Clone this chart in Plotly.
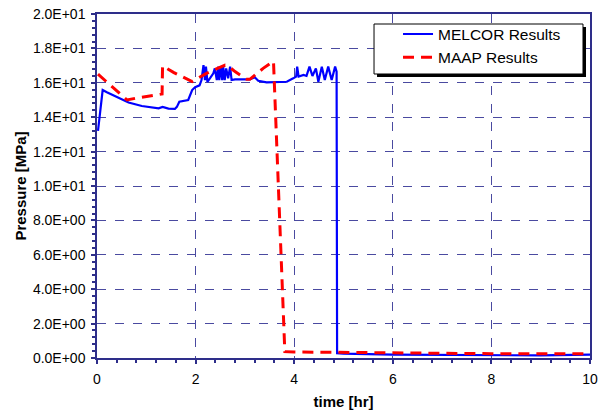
import plotly.graph_objects as go

# MELCOR results (time [hr], pressure [MPa])
melcor_t = [0.02, 0.115, 0.2, 0.44, 0.64, 0.91, 1.25, 1.33, 1.45, 1.58, 1.62, 1.67, 1.79, 1.85, 1.93, 1.99,
            2.08, 2.12, 2.16, 2.19, 2.21, 2.24, 2.29, 2.36, 2.39, 2.43, 2.46, 2.48, 2.51, 2.54, 2.56, 2.59,
            2.62, 2.66, 2.70, 2.73, 2.80, 2.90, 3.04, 3.10, 3.20, 3.27, 3.44, 3.64, 3.85, 3.98, 4.04,
            4.06, 4.09, 4.19, 4.25, 4.31, 4.37, 4.44, 4.49, 4.56, 4.62, 4.69, 4.76, 4.83, 4.86, 4.87,
            5.0, 6.0, 7.0, 8.0, 9.0, 10.0]
melcor_p = [13.2, 15.58, 15.45, 15.1, 14.85, 14.65, 14.52, 14.6, 14.5, 14.48, 14.6, 14.9, 14.95, 15.0, 15.58, 15.74,
            15.85, 16.16, 17.03, 16.16, 16.94, 16.06, 16.26, 16.55, 16.84, 16.16, 16.94, 16.16, 16.94, 16.16, 16.94, 16.16,
            16.84, 16.26, 16.94, 16.16, 16.2, 16.2, 16.16, 16.2, 16.32, 16.12, 16.03, 16.03, 16.06, 16.26,
            16.36, 16.94, 16.36, 16.46, 16.40, 16.94, 16.40, 16.84, 16.06, 16.94, 16.16, 16.94, 16.16, 16.94, 16.65, 0.28,
            0.25, 0.2, 0.17, 0.15, 0.15, 0.2]

# MAAP results
maap_t = [0.02, 0.61, 0.78, 1.32, 1.33, 1.56, 1.93, 2.22, 2.60, 2.65, 2.80, 3.04, 3.10, 3.37, 3.58, 3.81,
          4.0, 6.0, 8.0, 10.0]
maap_p = [16.5, 15.0, 15.1, 15.35, 16.98, 16.59, 16.07, 16.55, 17.03, 17.0, 16.65, 16.2, 16.2, 16.84, 17.25, 0.37,
          0.35, 0.3, 0.25, 0.25]

y_tickvals = [0, 2, 4, 6, 8, 10, 12, 14, 16, 18, 20]
y_ticktext = ["0.0E+00", "2.0E+00", "4.0E+00", "6.0E+00", "8.0E+00", "1.0E+01",
              "1.2E+01", "1.4E+01", "1.6E+01", "1.8E+01", "2.0E+01"]
x_tickvals = [0, 2, 4, 6, 8, 10]

NAVY = "#2e2e8a"
GRID = "#4a4aa0"
FONT = "Arial, Liberation Sans, sans-serif"

fig = go.Figure()
fig.add_trace(go.Scatter(x=melcor_t, y=melcor_p, mode="lines", name="MELCOR Results",
                         line=dict(color="#0000ff", width=2.2)))
fig.add_trace(go.Scatter(x=maap_t, y=maap_p, mode="lines", name="MAAP Results",
                         line=dict(color="#ff0000", width=3, dash="11px,7px")))

# legend box with shadow
fig.add_shape(type="rect", xref="paper", yref="paper", x0=0.568, x1=0.9919, y0=0.8169, y1=0.9622,
              fillcolor="black", line=dict(width=0), layer="above")
fig.add_shape(type="rect", xref="paper", yref="paper", x0=0.5619, x1=0.9858, y0=0.8256, y1=0.9709,
              fillcolor="white", line=dict(color="black", width=1), layer="above")

fig.update_layout(
    width=603, height=410,
    margin=dict(l=97, r=13, t=14, b=52, autoexpand=False),
    paper_bgcolor="white", plot_bgcolor="white",
    font=dict(family=FONT, color="black", size=14),
    showlegend=True,
    legend=dict(x=0.6106, y=0.99, xanchor="left", yanchor="top",
                bgcolor="rgba(0,0,0,0)", borderwidth=0,
                font=dict(family=FONT, size=15.5, color="black"),
                tracegroupgap=0, itemwidth=30),
    xaxis=dict(range=[0, 10], tickvals=x_tickvals, showline=True, linecolor=NAVY, linewidth=1.5,
               mirror=True, ticks="outside", ticklen=4, tickcolor=NAVY, tickwidth=1.5, automargin=False,
               showgrid=True, gridcolor=GRID, griddash="dash", gridwidth=1, zeroline=False,
               minor=dict(dtick=0.4, ticks="outside", ticklen=3, tickcolor=NAVY, showgrid=False),
               ticklabelstandoff=3,
               title=dict(text="<b>time [hr]</b>", font=dict(size=15, family=FONT), standoff=14),
               tickfont=dict(size=14)),
    yaxis=dict(range=[0, 20], tickvals=y_tickvals, ticktext=y_ticktext, showline=True, linecolor=NAVY,
               linewidth=1.5, mirror=True, ticks="outside", ticklen=4, tickcolor=NAVY, tickwidth=1.5,
               automargin=False, ticklabelstandoff=3,
               showgrid=True, gridcolor=GRID, griddash="dash", gridwidth=1, zeroline=False,
               minor=dict(dtick=0.4, ticks="outside", ticklen=3, tickcolor=NAVY, showgrid=False),
               title=dict(text="<b>Pressure [MPa]</b>", font=dict(size=15, family=FONT), standoff=3),
               tickfont=dict(size=14)),
)

fig.write_html("out.html", config={"displayModeBar": False},
               post_script="document.body.style.margin='0px';")
